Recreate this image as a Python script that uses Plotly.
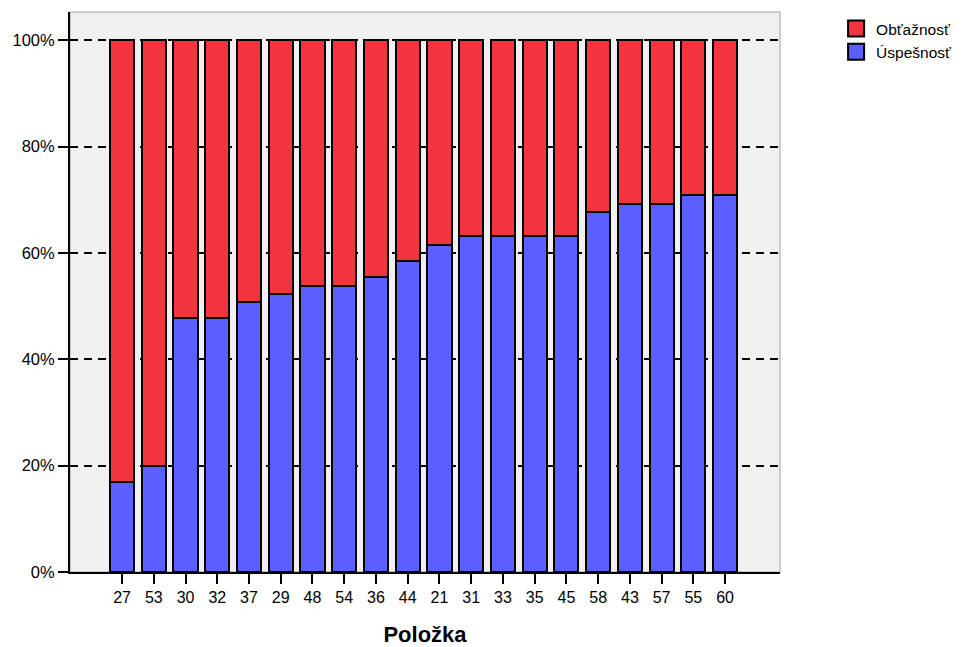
import plotly.graph_objects as go

categories = ["27", "53", "30", "32", "37", "29", "48", "54", "36", "44",
              "21", "31", "33", "35", "45", "58", "43", "57", "55", "60"]
uspesnost = [16.9, 20.0, 47.7, 47.7, 50.8, 52.3, 53.8, 53.8, 55.4, 58.5,
             61.5, 63.1, 63.1, 63.1, 63.1, 67.7, 69.2, 69.2, 70.8, 70.8]
obtaznost = [round(100 - v, 1) for v in uspesnost]
y_ticks = [0, 20, 40, 60, 80, 100]
y_tick_labels = ["0%", "20%", "40%", "60%", "80%", "100%"]

blue = "#5b5fff"
red = "#f2343d"

fig = go.Figure()
fig.add_trace(go.Bar(x=categories, y=uspesnost, name="Úspešnosť",
                     legendgroup="u", showlegend=False,
                     marker=dict(color=blue, line=dict(color="black", width=2)),
                     width=0.76))
fig.add_trace(go.Bar(x=categories, y=obtaznost, name="Obťažnosť",
                     legendgroup="o", showlegend=False,
                     marker=dict(color=red, line=dict(color="black", width=2)),
                     width=0.76))
# legend entries with larger square swatches
fig.add_trace(go.Scatter(x=[None], y=[None], mode="markers", name="Obťažnosť",
                         legendgroup="o", legendrank=1,
                         marker=dict(symbol="square", size=16, color=red,
                                     line=dict(color="black", width=2))))
fig.add_trace(go.Scatter(x=[None], y=[None], mode="markers", name="Úspešnosť",
                         legendgroup="u", legendrank=2,
                         marker=dict(symbol="square", size=16, color=blue,
                                     line=dict(color="black", width=2))))

fig.update_layout(
    barmode="stack",
    width=962, height=647,
    margin=dict(l=62, r=190, t=4, b=83),
    paper_bgcolor="white",
    plot_bgcolor="#f0f0f0",
    font=dict(family="Liberation Sans, Arial, sans-serif", size=16, color="black"),
    showlegend=True,
    legend=dict(x=1.079, y=1.0, xanchor="left", yanchor="top",
                traceorder="normal", font=dict(size=15.5),
                bgcolor="rgba(0,0,0,0)", itemsizing="trace",
                itemwidth=30, tracegroupgap=0),
    xaxis=dict(
        type="category",
        categoryorder="array", categoryarray=categories,
        range=[-1.64, 20.73],
        showline=True, linecolor="black", linewidth=2,
        ticks="outside", ticklen=10, tickwidth=2, tickcolor="black",
        showgrid=False,
        tickfont=dict(size=16),
        title=dict(text="<b>Položka</b>", font=dict(size=22), standoff=21),
    ),
    yaxis=dict(
        range=[0, 105.3],
        tickmode="array",
        tickvals=y_ticks,
        ticktext=y_tick_labels,
        showline=True, linecolor="black", linewidth=2,
        ticks="outside", ticklen=10, tickwidth=2, tickcolor="black",
        showgrid=True, gridcolor="black", gridwidth=2, griddash="8px,6px",
        zeroline=False,
        tickfont=dict(size=16.5),
    ),
    shapes=[dict(type="rect", xref="paper", yref="paper", x0=0, y0=0, x1=1, y1=1,
                 line=dict(color="#a0a0a0", width=1), layer="below")],
)

fig.write_html("out.html")
